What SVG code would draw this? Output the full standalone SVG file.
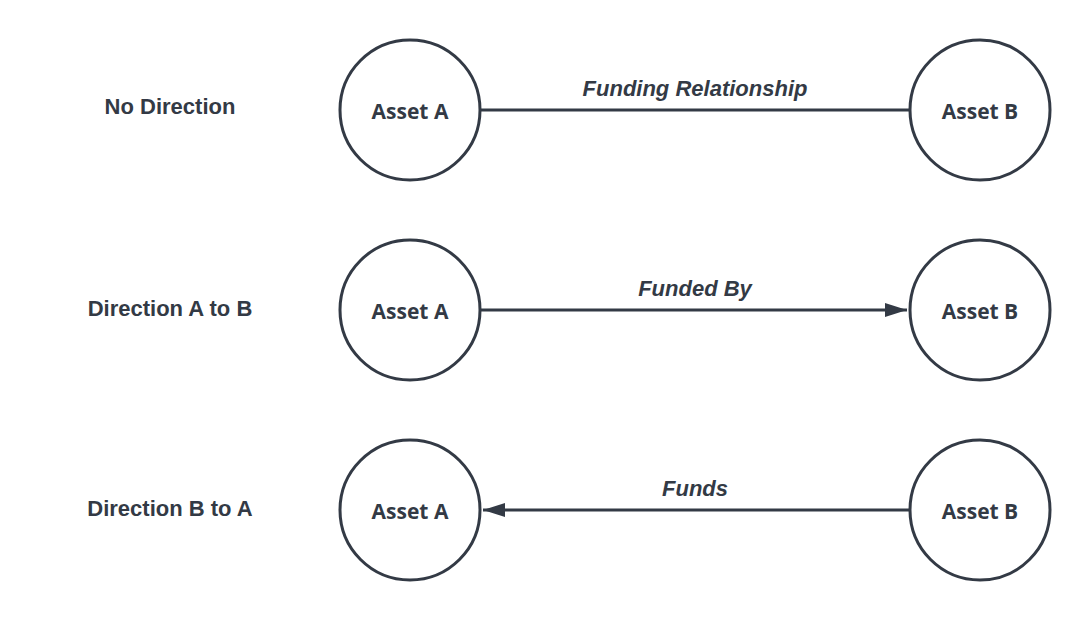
<svg xmlns="http://www.w3.org/2000/svg" width="1090" height="620" viewBox="0 0 1090 620">
<style>
.node{fill:#fff;stroke:#333a45;stroke-width:3}
.nt{font-family:"Open Sans",sans-serif;font-weight:700;font-size:21px;fill:#333a45;text-anchor:middle}
.lbl{font-family:"Liberation Sans",Arial,sans-serif;font-weight:700;font-size:22px;fill:#333a45;text-anchor:middle}
.el{font-family:"Liberation Sans",Arial,sans-serif;font-weight:700;font-style:italic;font-size:22px;fill:#333a45;text-anchor:middle}
.edge{stroke:#333a45;stroke-width:3;fill:none}
</style>
<defs>
<marker id="ah" viewBox="0 0 22 14" refX="22" refY="7" markerWidth="22" markerHeight="14" markerUnits="userSpaceOnUse" orient="auto">
<path d="M0,0 L22,7 L0,14 Z" fill="#333a45"/>
</marker>
</defs>
<rect width="1090" height="620" fill="#fff"/>
<g id="labels">
<text class="lbl" x="170" y="114">No Direction</text>
<text class="lbl" x="170" y="316">Direction A to B</text>
<text class="lbl" x="170" y="516">Direction B to A</text>
</g>
<g id="connectors">
<line class="edge" x1="481" y1="110" x2="909" y2="110"/>
<line class="edge" x1="481" y1="310" x2="907" y2="310" marker-end="url(#ah)"/>
<line class="edge" x1="909" y1="510" x2="483" y2="510" marker-end="url(#ah)"/>
<text class="el" x="695" y="96">Funding Relationship</text>
<text class="el" x="695" y="296">Funded By</text>
<text class="el" x="695" y="496">Funds</text>
</g>
<g id="a1"><circle class="node" cx="410" cy="110" r="70"/><text class="nt" x="410" y="119">Asset A</text></g>
<g id="b1"><circle class="node" cx="980" cy="110" r="70"/><text class="nt" x="980" y="119">Asset B</text></g>
<g id="a2"><circle class="node" cx="410" cy="310" r="70"/><text class="nt" x="410" y="319">Asset A</text></g>
<g id="b2"><circle class="node" cx="980" cy="310" r="70"/><text class="nt" x="980" y="319">Asset B</text></g>
<g id="a3"><circle class="node" cx="410" cy="510" r="70"/><text class="nt" x="410" y="519">Asset A</text></g>
<g id="b3"><circle class="node" cx="980" cy="510" r="70"/><text class="nt" x="980" y="519">Asset B</text></g>
</svg>
